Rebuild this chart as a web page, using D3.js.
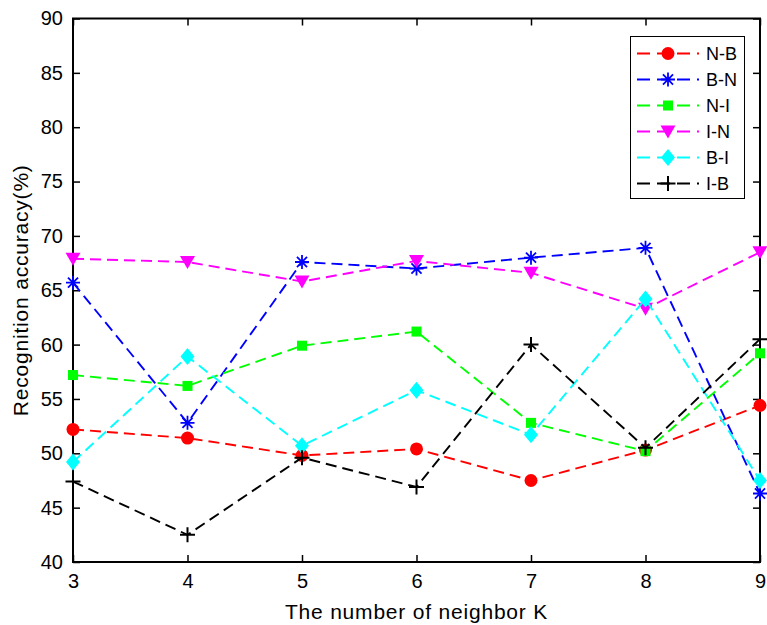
<!DOCTYPE html>
<html>
<head>
<meta charset="utf-8">
<script src="https://cdn.jsdelivr.net/npm/d3@7"></script>
<style>
  body { margin: 0; background: #fff; }
  text { font-family: "Liberation Sans", Arial, sans-serif; }
</style>
</head>
<body>
<div class="chart"></div>
<script>
var svgWidth = 767;
var svgHeight = 625;

var margin = { top: 18.5, right: 7, bottom: 63, left: 73 };
var width = svgWidth - margin.left - margin.right;
var height = svgHeight - margin.top - margin.bottom;

// data
var kValues = [3, 4, 5, 6, 7, 8, 9];
var yTicks = [40, 45, 50, 55, 60, 65, 70, 75, 80, 85, 90];
var seriesNames = ["N-B", "B-N", "N-I", "I-N", "B-I", "I-B"];
var nbValues = [52.2, 51.4, 49.8, 50.4, 47.5, 50.3, 54.4];
var bnValues = [65.7, 52.8, 67.6, 67.0, 68.0, 68.9, 46.3];
var niValues = [57.2, 56.2, 59.9, 61.2, 52.8, 50.2, 59.2];
var inValues = [67.9, 67.6, 65.8, 67.7, 66.6, 63.3, 68.5];
var biValues = [49.2, 58.9, 50.7, 55.8, 51.7, 64.2, 47.5];
var ibValues = [47.4, 42.5, 49.6, 46.9, 60.0, 50.5, 60.5];

var seriesValues = [nbValues, bnValues, niValues, inValues, biValues, ibValues];
var colors = ["#ff0000", "#0000ff", "#00ff00", "#ff00ff", "#00ffff", "#000000"];
var markers = ["circle", "star", "square", "triangle", "diamond", "plus"];

var svg = d3.select(".chart")
    .append("svg")
    .attr("width", svgWidth)
    .attr("height", svgHeight);

var chartGroup = svg.append("g")
    .attr("transform", `translate(${margin.left}, ${margin.top})`);

var xScale = d3.scaleLinear().domain([3, 9]).range([0, width]);
var yScale = d3.scaleLinear().domain([40, 90]).range([height, 0]);

// axes with inward ticks, mirrored on top and right
var tickLen = 7;
var bottomAxis = d3.axisBottom(xScale).tickValues(kValues).tickFormat(d3.format("d"))
    .tickSizeInner(-tickLen).tickSizeOuter(0).tickPadding(12);
var topAxis = d3.axisTop(xScale).tickValues(kValues).tickSizeInner(-tickLen).tickSizeOuter(0).tickFormat("");
var leftAxis = d3.axisLeft(yScale).tickValues(yTicks).tickFormat(d3.format("d"))
    .tickSizeInner(-tickLen).tickSizeOuter(0).tickPadding(10);
var rightAxis = d3.axisRight(yScale).tickValues(yTicks).tickSizeInner(-tickLen).tickSizeOuter(0).tickFormat("");

function styleAxis(g) {
  g.select(".domain").remove();
  g.selectAll(".tick line").attr("stroke", "#000").attr("stroke-width", 1.5);
  g.selectAll(".tick text").attr("fill", "#000").style("font-size", "20px");
}

chartGroup.append("g").attr("transform", `translate(0,${height})`).call(bottomAxis).call(styleAxis);
chartGroup.append("g").call(topAxis).call(styleAxis);
chartGroup.append("g").call(leftAxis).call(styleAxis);
chartGroup.append("g").attr("transform", `translate(${width},0)`).call(rightAxis).call(styleAxis);

chartGroup.append("rect")
    .attr("width", width)
    .attr("height", height)
    .attr("fill", "none")
    .attr("stroke", "#000")
    .attr("stroke-width", 2);

// marker drawing
function drawMarker(g, type, color, x, y) {
  if (type === "circle") {
    g.append("circle").attr("cx", x).attr("cy", y).attr("r", 6.5).attr("fill", color);
  } else if (type === "square") {
    g.append("rect").attr("x", x - 5).attr("y", y - 5).attr("width", 10).attr("height", 10).attr("fill", color);
  } else if (type === "triangle") {
    g.append("path").attr("d", `M${x - 7.5},${y - 6} L${x + 7.5},${y - 6} L${x},${y + 7} Z`).attr("fill", color);
  } else if (type === "diamond") {
    g.append("path").attr("d", `M${x},${y - 8.5} L${x + 7},${y} L${x},${y + 8.5} L${x - 7},${y} Z`).attr("fill", color);
  } else if (type === "star") {
    var s = 7, d = s * 0.72;
    g.append("path")
      .attr("d", `M${x - s},${y} L${x + s},${y} M${x},${y - s} L${x},${y + s} M${x - d},${y - d} L${x + d},${y + d} M${x - d},${y + d} L${x + d},${y - d}`)
      .attr("stroke", color).attr("stroke-width", 1.8).attr("fill", "none");
  } else if (type === "plus") {
    var p = 7.5;
    g.append("path")
      .attr("d", `M${x - p},${y} L${x + p},${y} M${x},${y - p} L${x},${y + p}`)
      .attr("stroke", color).attr("stroke-width", 2).attr("fill", "none");
  }
}

var line = d3.line()
    .x((d, i) => xScale(kValues[i]))
    .y(d => yScale(d));

var plotGroup = chartGroup.append("g");
seriesValues.forEach(function(vals, s) {
  plotGroup.append("path")
      .datum(vals)
      .attr("d", line)
      .attr("fill", "none")
      .attr("stroke", colors[s])
      .attr("stroke-width", 1.9)
      .attr("stroke-dasharray", "11,6");
  vals.forEach(function(v, i) {
    drawMarker(plotGroup, markers[s], colors[s], xScale(kValues[i]), yScale(v));
  });
});

// legend
var legend = svg.append("g");
legend.append("rect")
    .attr("x", 630.5).attr("y", 36.5)
    .attr("width", 114).attr("height", 162)
    .attr("fill", "#fff").attr("stroke", "#000").attr("stroke-width", 1);

seriesNames.forEach(function(name, s) {
  var y = 53.5 + s * 26;
  legend.append("line")
      .attr("x1", 637).attr("x2", 699).attr("y1", y).attr("y2", y)
      .attr("stroke", colors[s]).attr("stroke-width", 1.9)
      .attr("stroke-dasharray", "13,7");
  drawMarker(legend, markers[s], colors[s], 668, y);
  legend.append("text")
      .attr("x", 706).attr("y", y + 6.5)
      .style("font-size", "18px")
      .text(name);
});

// axis titles
svg.append("text")
    .attr("x", margin.left + width / 2)
    .attr("y", 619)
    .attr("text-anchor", "middle")
    .style("font-size", "21px")
    .style("letter-spacing", "0.8px")
    .text("The number of neighbor K");

svg.append("text")
    .attr("transform", `translate(28, ${margin.top + height / 2}) rotate(-90)`)
    .attr("text-anchor", "middle")
    .style("font-size", "21px")
    .style("letter-spacing", "0.8px")
    .text("Recognition accuracy(%)");
</script>
</body>
</html>
